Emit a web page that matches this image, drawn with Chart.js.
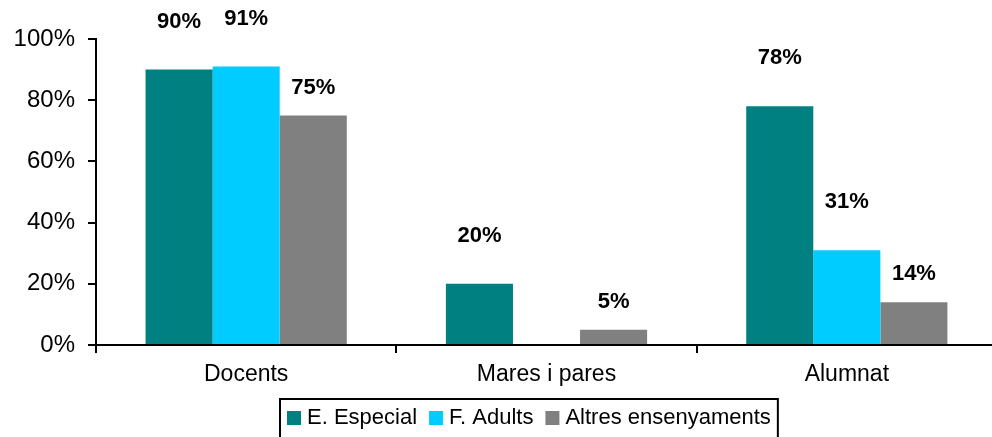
<!DOCTYPE html>
<html>
<head>
<meta charset="utf-8">
<script src="https://cdn.jsdelivr.net/npm/chart.js@4"></script>
<style>
  html, body { margin: 0; padding: 0; background: #fff; overflow: hidden; }
  #wrap { width: 1000px; height: 437px; }
</style>
</head>
<body>
<div id="wrap"><canvas id="chart" width="1000" height="437"></canvas></div>
<script>
// values
const categories = ['Docents', 'Mares i pares', 'Alumnat'];
const especial = [90, 20, 78];
const adults = [91, null, 31];
const altres = [75, 5, 14];
const yTicks = [0, 20, 40, 60, 80, 100];

const FONT = 'Arial, "Liberation Sans", sans-serif';

// labels above bars, series 3 sits closer to its bar
const barLabels = {
    id: 'barLabels',
    afterDatasetsDraw(chart, args, opts) {
        const ctx = chart.ctx;
        ctx.save();
        ctx.font = 'bold 22px ' + FONT;
        ctx.fillStyle = '#000';
        ctx.textAlign = 'center';
        ctx.textBaseline = 'middle';
        chart.data.datasets.forEach((ds, i) => {
            chart.getDatasetMeta(i).data.forEach((bar, j) => {
                const v = ds.data[j];
                if (v === null || v === undefined) return;
                ctx.fillText(v + '%', bar.x, bar.y - opts.offsets[i]);
            });
        });
        ctx.restore();
    }
};

// boxed legend drawn by hand, Chart.js legend has no border
const boxLegend = {
    id: 'boxLegend',
    afterDraw(chart, args, opts) {
        const ctx = chart.ctx;
        ctx.save();
        ctx.font = '22px ' + FONT;
        ctx.textBaseline = 'middle';
        const box = 14, gap = 6, itemGap = 12, pad = 7;
        const items = chart.data.datasets.map(ds => ({
            label: ds.label, color: ds.backgroundColor,
            w: box + gap + ctx.measureText(ds.label).width
        }));
        const total = items.reduce((s, it) => s + it.w, 0) + itemGap * (items.length - 1) + pad * 2;
        let x = opts.left;
        const top = opts.top;
        ctx.lineWidth = 2;
        ctx.strokeStyle = '#000';
        ctx.strokeRect(x, top, total, 50);
        x += pad;
        const cy = top + 19;
        items.forEach(it => {
            ctx.fillStyle = it.color;
            ctx.fillRect(x, cy - box / 2, box, box);
            ctx.fillStyle = '#000';
            ctx.fillText(it.label, x + box + gap, cy);
            x += it.w + itemGap;
        });
        ctx.restore();
    }
};

new Chart(document.getElementById('chart'), {
    type: 'bar',
    data: {
        labels: categories,
        datasets: [
            { label: 'E. Especial', data: especial, backgroundColor: '#008080' },
            { label: 'F. Adults', data: adults, backgroundColor: '#00CCFF' },
            { label: 'Altres ensenyaments', data: altres, backgroundColor: '#808080' }
        ]
    },
    options: {
        responsive: false,
        animation: false,
        layout: { padding: { top: 39, left: 0, right: 3, bottom: 42 } },
        datasets: { bar: { categoryPercentage: 0.67, barPercentage: 1 } },
        plugins: {
            legend: { display: false },
            tooltip: { enabled: false },
            barLabels: { offsets: [48, 48, 28] },
            boxLegend: { left: 280, top: 399 }
        },
        scales: {
            x: {
                afterFit(s) { s.height = 50; },
                grid: { display: true, offset: true, drawOnChartArea: false, drawTicks: true, tickLength: 8, color: '#000', lineWidth: 2 },
                border: { display: true, color: '#000', width: 2 },
                ticks: { color: '#000', font: { family: FONT, size: 23 }, padding: 8 }
            },
            y: {
                min: 0, max: 100,
                afterFit(s) { s.width = 96; },
                afterBuildTicks(s) { s.ticks = yTicks.map(v => ({ value: v })); },
                grid: { display: true, drawOnChartArea: false, drawTicks: true, tickLength: 8, color: '#000', lineWidth: 2 },
                border: { display: true, color: '#000', width: 2 },
                ticks: { color: '#000', font: { family: FONT, size: 24 }, padding: 13, callback: v => v + '%' }
            }
        }
    },
    plugins: [barLabels, boxLegend]
});
</script>
</body>
</html>
